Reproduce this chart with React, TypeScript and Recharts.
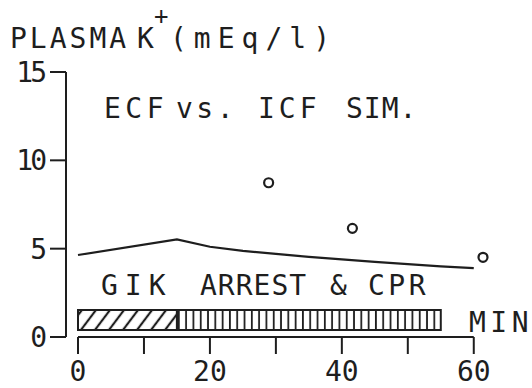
import React from "react";
import {
  ComposedChart,
  Line,
  Scatter,
  XAxis,
  YAxis,
  ReferenceArea,
  ReferenceLine,
} from "recharts";

// simulated ECF potassium (min, mEq/l)
const simMinutes = [0, 15, 20, 25, 30, 35, 40, 45, 50, 55, 60];
const simK = [4.64, 5.53, 5.11, 4.88, 4.7, 4.53, 4.39, 4.25, 4.12, 4.0, 3.9];

// measured plasma K+
const obsMinutes = [28.9, 41.6, 61.4];
const obsK = [8.73, 6.15, 4.51];

// protocol phases along the time bar
const phaseLabels = ["GIK", "ARREST & CPR"];
const phaseStart = [0, 15];
const phaseEnd = [15, 55];
const phaseFill = ["url(#hatch)", "url(#stripes)"];
const barLow = 0.4;
const barHigh = 1.53;

const yTicks = [0, 5, 10, 15];
const xTicks = [0, 10, 20, 30, 40, 50, 60];
const xLabelled = [0, 20, 40, 60];

const sim = simMinutes.map((t, i) => ({ t, k: simK[i] }));
const obs = obsMinutes.map((t, i) => ({ t, k: obsK[i] }));

const INK = "#1e1e1e";
const FONT = "'DejaVu Sans Mono', monospace";

// hand-lettered annotations (pixel layout)
const notes = [
  { text: "PLASMA", x: 10, y: 48, ls: 3 },
  { text: "K", x: 137, y: 48, ls: 0 },
  { text: "(mEq/l)", x: 170, y: 48, ls: 7 },
  { text: "ECF", x: 104, y: 118, ls: 4.5 },
  { text: "vs.", x: 176, y: 118, ls: 3.5 },
  { text: "ICF", x: 258, y: 118, ls: 4 },
  { text: "SIM.", x: 346, y: 118, ls: 1 },
  { text: "GIK", x: 101, y: 295, ls: 7 },
  { text: "ARREST", x: 200, y: 295, ls: 1 },
  { text: "&", x: 330, y: 295, ls: 0 },
  { text: "CPR", x: 368, y: 295, ls: 3.5 },
  { text: "MIN", x: 469, y: 332, ls: 4.5 },
];

const Ring = (props: any) => {
  const { cx, cy } = props;
  return <circle cx={cx} cy={cy} r={4.5} fill="#fff" stroke={INK} strokeWidth={2.2} />;
};

export default function App() {
  return (
    <div style={{ position: "absolute", left: 0, top: 0, width: 532, height: 388, background: "#fff" }}>
      <ComposedChart width={532} height={388} margin={{ top: 72, right: 49, bottom: 0, left: 0 }}>
        <defs>
          <pattern id="hatch" width={11.2} height={11.2} patternUnits="userSpaceOnUse" patternTransform="rotate(37)">
            <line x1={5.6} y1={-2} x2={5.6} y2={14} stroke={INK} strokeWidth={2.2} />
          </pattern>
          <pattern id="stripes" width={7.3} height={10} patternUnits="userSpaceOnUse">
            <line x1={3.6} y1={0} x2={3.6} y2={10} stroke={INK} strokeWidth={1.8} />
          </pattern>
        </defs>
        <XAxis
          type="number"
          dataKey="t"
          domain={[0, 60]}
          ticks={xTicks}
          padding={{ left: 12, right: 0 }}
          axisLine={false}
          tickLine={{ stroke: INK, strokeWidth: 2 }}
          tickSize={17}
          tickMargin={7}
          height={51}
          interval={0}
          tickFormatter={(v: number) => (xLabelled.includes(v) ? String(v) : "")}
          tick={{ fill: INK, fontSize: 28, fontFamily: FONT }}
        />
        <YAxis
          type="number"
          dataKey="k"
          domain={[0, 15]}
          ticks={yTicks}
          width={66}
          axisLine={{ stroke: INK, strokeWidth: 2 }}
          tickLine={{ stroke: INK, strokeWidth: 2 }}
          tickSize={16}
          tickMargin={6}
          interval={0}
          tick={{ fill: INK, fontSize: 28, fontFamily: FONT, letterSpacing: -3 }}
        />
        <ReferenceLine
          segment={[
            { x: 0, y: 0 },
            { x: 60, y: 0 },
          ]}
          stroke={INK}
          strokeWidth={2}
        />
        {phaseLabels.map((name, i) => (
          <ReferenceArea
            key={name}
            x1={phaseStart[i]}
            x2={phaseEnd[i]}
            y1={barLow}
            y2={barHigh}
            fill={phaseFill[i]}
            fillOpacity={1}
            stroke={INK}
            strokeWidth={2}
          />
        ))}
        <Line
          data={sim}
          dataKey="k"
          type="linear"
          stroke={INK}
          strokeWidth={2.2}
          dot={false}
          isAnimationActive={false}
        />
        <Scatter data={obs} dataKey="k" shape={Ring} isAnimationActive={false} />
      </ComposedChart>
      <svg
        width={532}
        height={388}
        style={{ position: "absolute", left: 0, top: 0, pointerEvents: "none" }}
      >
        {notes.map((n) => (
          <text key={n.text} x={n.x} y={n.y} fill={INK} fontSize={28} fontFamily={FONT} letterSpacing={n.ls}>
            {n.text}
          </text>
        ))}
        <text x={154} y={24} fill={INK} fontSize={24} fontFamily={FONT}>
          +
        </text>
      </svg>
    </div>
  );
}
